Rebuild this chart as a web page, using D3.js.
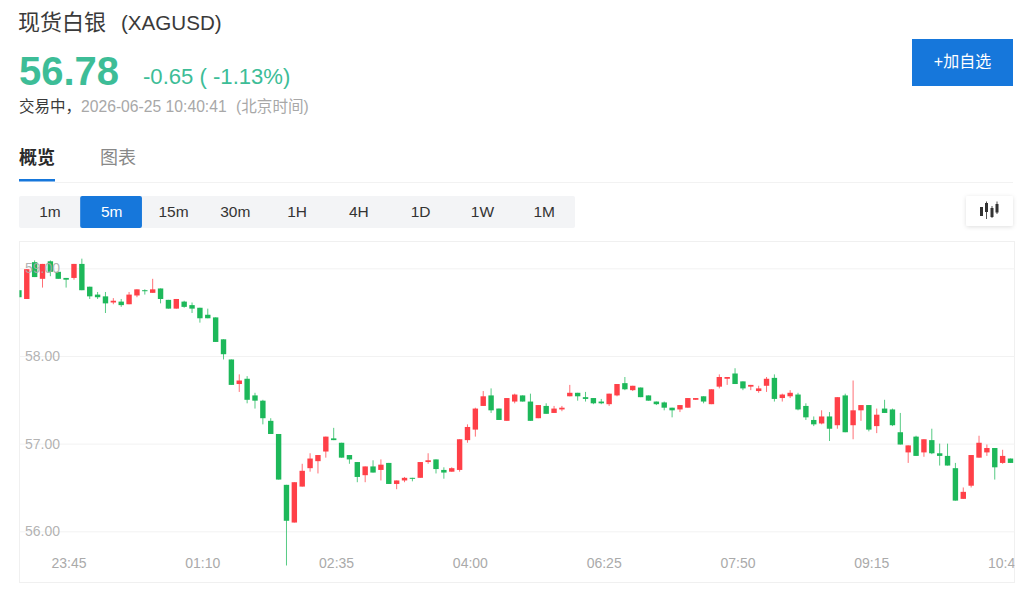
<!DOCTYPE html>
<html lang="zh">
<head>
<meta charset="utf-8">
<title>现货白银 (XAGUSD)</title>
<script src="https://cdn.jsdelivr.net/npm/d3@7/dist/d3.min.js"></script>
<style>
  html, body { margin: 0; padding: 0; background: #fff; overflow: hidden; }
  svg { display: block; }
  text { font-family: "Liberation Sans", "Noto Sans CJK SC", sans-serif; }
</style>
</head>
<body>
<svg id="page" width="1024" height="590"></svg>
<script>
// 5-minute candles, oldest first
const opens = [58.75,58.65,59.07,58.88,59.08,58.96,58.89,58.89,59.05,58.79,58.70,58.68,58.61,58.62,58.59,58.69,58.75,58.72,58.77,58.64,58.54,58.62,58.58,58.55,58.47,58.44,58.19,
  57.96,57.68,57.74,57.55,57.49,57.26,57.11,56.53,56.10,56.51,56.72,56.80,56.91,57.06,57.01,56.87,56.79,56.64,56.74,56.70,56.78,56.54,56.58,56.61,56.61,56.79,56.82,56.70,56.68,
  56.70,57.04,57.16,57.43,57.55,57.40,57.26,57.48,57.55,57.48,57.29,57.43,57.35,57.39,57.54,57.58,57.53,57.52,57.48,57.45,57.55,57.69,57.61,57.64,57.55,57.48,57.47,57.41,57.39,57.41,57.50,57.54,57.45,57.65,57.74,57.80,
  57.71,57.65,57.60,57.66,57.75,57.52,57.54,57.56,57.43,57.27,57.23,57.31,57.21,57.55,57.21,57.38,57.44,57.20,57.40,57.39,57.13,56.90,57.08,56.90,57.04,56.89,56.86,56.72,56.37,56.52,56.84,56.90,56.95,56.78,56.83];
const closes = [58.67,58.99,58.90,59.05,58.96,58.88,58.87,59.05,58.75,58.68,58.67,58.60,58.63,58.58,58.70,58.76,58.74,58.76,58.65,58.54,58.65,58.56,58.54,58.43,58.43,58.16,58.02,
  57.67,57.72,57.50,57.49,57.29,57.11,56.59,56.12,56.56,56.69,56.83,56.87,57.08,57.04,56.84,56.82,56.62,56.74,56.67,56.76,56.54,56.58,56.61,56.60,56.79,56.81,56.71,56.67,56.72,
  57.05,57.19,57.40,57.54,57.38,57.27,57.52,57.56,57.48,57.26,57.44,57.34,57.40,57.41,57.58,57.54,57.51,57.46,57.46,57.57,57.68,57.62,57.66,57.53,57.49,57.45,57.41,57.38,57.44,57.52,57.52,57.48,57.62,57.76,57.76,57.68,
  57.63,57.67,57.63,57.74,57.51,57.56,57.58,57.39,57.30,57.22,57.31,57.17,57.53,57.13,57.38,57.44,57.16,57.33,57.35,57.21,56.99,56.98,56.86,57.05,56.89,56.86,56.75,56.35,56.45,56.87,57.01,56.95,56.73,56.86,56.78];
const highs = [58.75,58.99,59.09,59.05,59.09,58.96,58.89,59.05,59.11,58.79,58.73,58.73,58.66,58.65,58.73,58.76,58.76,58.88,58.77,58.64,58.65,58.63,58.61,58.55,58.54,58.44,58.19,
  57.96,57.79,57.77,57.58,57.50,57.29,57.11,56.53,56.56,56.77,56.89,56.87,57.08,57.18,57.01,56.87,56.79,56.74,56.81,56.82,56.78,56.58,56.62,56.61,56.79,56.89,56.82,56.73,56.73,
  57.05,57.22,57.41,57.60,57.63,57.40,57.52,57.57,57.55,57.57,57.44,57.46,57.43,57.43,57.67,57.58,57.59,57.52,57.51,57.57,57.68,57.76,57.66,57.64,57.55,57.48,57.48,57.41,57.44,57.52,57.52,57.54,57.62,57.79,57.76,57.86,
  57.71,57.67,57.66,57.76,57.79,57.57,57.61,57.58,57.46,57.31,57.38,57.36,57.53,57.57,57.72,57.44,57.44,57.40,57.50,57.40,57.35,56.98,57.09,57.05,57.17,57.00,57.00,56.78,56.50,56.87,57.09,56.99,56.95,56.93,56.83];
const lows = [58.67,58.65,58.90,58.78,58.91,58.88,58.78,58.87,58.75,58.65,58.65,58.49,58.59,58.56,58.59,58.67,58.70,58.72,58.60,58.54,58.54,58.55,58.49,58.38,58.43,58.16,57.96,
  57.67,57.59,57.46,57.40,57.22,57.11,56.59,55.61,56.10,56.51,56.68,56.66,56.84,57.04,56.84,56.77,56.56,56.56,56.67,56.58,56.54,56.48,56.56,56.57,56.61,56.77,56.66,56.60,56.68,
  56.68,57.01,57.08,57.43,57.35,57.27,57.26,57.46,57.48,57.26,57.29,57.34,57.35,57.37,57.54,57.49,57.48,57.45,57.45,57.43,57.54,57.61,57.60,57.53,57.49,57.44,57.38,57.30,57.36,57.41,57.50,57.46,57.45,57.63,57.67,57.68,
  57.61,57.61,57.58,57.59,57.48,57.48,57.52,57.38,57.27,57.20,57.22,57.03,57.17,57.13,57.05,57.26,57.14,57.12,57.35,57.20,56.99,56.78,56.86,56.85,56.88,56.75,56.75,56.35,56.37,56.50,56.84,56.86,56.59,56.77,56.78];

const priceTicks = [56, 57, 58, 59];
const timeTickIndex = [6, 23, 40, 57, 74, 91, 108, 125];
const timeTickLabels = ["23:45", "01:10", "02:35", "04:00", "06:25", "07:50", "09:15", "10:40"];
const periods = ["1m", "5m", "15m", "30m", "1H", "4H", "1D", "1W", "1M"];
const activePeriod = "5m";

const UP = "#ff4048", DOWN = "#1db85a", BLUE = "#1677db";

const svg = d3.select("#page");
svg.append("rect").attr("width", 1024).attr("height", 590).attr("fill", "#fff");

// Quote header
svg.append("text").attr("x", 18).attr("y", 30).attr("font-size", 22).attr("fill", "#3a3a3a").text("现货白银");
svg.append("text").attr("x", 121).attr("y", 30).attr("font-size", 20.6).attr("fill", "#3a3a3a").text("(XAGUSD)");
svg.append("text").attr("x", 19).attr("y", 85).attr("font-size", 40).attr("font-weight", 700).attr("fill", "#3dbd97").text("56.78");
svg.append("text").attr("x", 143).attr("y", 84).attr("font-size", 22.1).attr("fill", "#3dbd97").text("-0.65 ( -1.13%)");
svg.append("text").attr("x", 19).attr("y", 112).attr("font-size", 15.5).attr("fill", "#3a3a3a").text("交易中，");
svg.append("text").attr("x", 81).attr("y", 112).attr("font-size", 15.7).attr("fill", "#a8a8a8").text("2026-06-25 10:40:41");
svg.append("text").attr("x", 236).attr("y", 112).attr("font-size", 15.6).attr("fill", "#a8a8a8").text("(北京时间)");

// Add-to-watchlist button
svg.append("rect").attr("x", 912).attr("y", 39).attr("width", 101).attr("height", 47).attr("fill", BLUE);
svg.append("text").attr("x", 962.5).attr("y", 67).attr("text-anchor", "middle").attr("font-size", 16).attr("fill", "#fff").text("+加自选");

// Tabs
svg.append("text").attr("x", 19).attr("y", 164).attr("font-size", 18).attr("font-weight", 700).attr("fill", "#2b2b2b").text("概览");
svg.append("text").attr("x", 100).attr("y", 164).attr("font-size", 18).attr("fill", "#888").text("图表");
svg.append("rect").attr("x", 19).attr("y", 179).attr("width", 36).attr("height", 2.5).attr("fill", BLUE);
svg.append("line").attr("x1", 55).attr("x2", 1013).attr("y1", 182.5).attr("y2", 182.5).attr("stroke", "#f2f2f2");

// Period selector
const periodX = d3.scaleBand().domain(periods).range([18.4, 574.4]);
svg.append("rect").attr("x", 19).attr("y", 196).attr("width", 556).attr("height", 32).attr("rx", 2).attr("fill", "#f3f4f6");
svg.append("rect").attr("x", periodX(activePeriod)).attr("y", 196).attr("width", periodX.bandwidth()).attr("height", 32).attr("rx", 2).attr("fill", BLUE);
svg.append("g").selectAll("text").data(periods).join("text")
  .attr("x", d => periodX(d) + periodX.bandwidth() / 2 + 0.7)
  .attr("y", 217)
  .attr("text-anchor", "middle")
  .attr("font-size", 15.5)
  .attr("fill", d => d === activePeriod ? "#fff" : "#333")
  .text(d => d);

// Chart-type button
const shadow = svg.append("defs").append("filter").attr("id", "soft").attr("x", "-30%").attr("y", "-30%").attr("width", "160%").attr("height", "170%");
shadow.append("feDropShadow").attr("dx", 0).attr("dy", 1).attr("stdDeviation", 2).attr("flood-color", "#000").attr("flood-opacity", 0.13);
svg.append("rect").attr("x", 966).attr("y", 196).attr("width", 47).attr("height", 30).attr("rx", 2).attr("fill", "#fff").attr("filter", "url(#soft)");
const glyph = [[981.5, 207, 216, 207, 216], [986.5, 203, 212, 201.5, 219], [992, 208, 217, 206, 218], [997, 204, 212.5, 201.5, 214]];
const glyphG = svg.append("g").attr("fill", "#333").attr("stroke", "#555");
glyph.forEach(([x, t, b, wt, wb]) => {
  glyphG.append("line").attr("x1", x).attr("x2", x).attr("y1", wt).attr("y2", wb).attr("stroke-width", 1);
  glyphG.append("rect").attr("x", x - 1.5).attr("y", t).attr("width", 3).attr("height", b - t).attr("stroke", "none");
});

// Price chart
const frame = { left: 19.5, right: 1014.5, top: 241.5, bottom: 582.5 };
const x = d3.scaleLinear().domain([0, 126]).range([18.9, 1010.5]);
const y = d3.scaleLinear().domain([56, 59]).range([531.3, 268.3]);

svg.append("rect").attr("x", frame.left).attr("y", frame.top)
  .attr("width", frame.right - frame.left).attr("height", frame.bottom - frame.top)
  .attr("fill", "#fff").attr("stroke", "#f0f0f0");

svg.append("clipPath").attr("id", "plot").append("rect")
  .attr("x", frame.left).attr("y", frame.top)
  .attr("width", frame.right - frame.left).attr("height", frame.bottom - frame.top);

const yAxis = d3.axisRight(y).tickValues(priceTicks).tickFormat(d3.format(".2f"))
  .tickSize(frame.right - frame.left).tickPadding(0);
const yG = svg.append("g").attr("transform", `translate(${frame.left},0)`).call(yAxis);
yG.select(".domain").remove();
yG.selectAll(".tick line").attr("stroke", "#f2f2f2");
yG.selectAll(".tick text").remove();

const candles = d3.range(opens.length).map(i => ({ i, o: opens[i], c: closes[i], h: highs[i], l: lows[i] }));
const plot = svg.append("g").attr("clip-path", "url(#plot)");
const color = d => d.c >= d.o ? UP : DOWN;

plot.append("g").selectAll("line").data(candles).join("line")
  .attr("x1", d => x(d.i)).attr("x2", d => x(d.i))
  .attr("y1", d => y(d.h)).attr("y2", d => y(d.l))
  .attr("stroke", color).attr("stroke-width", 1).attr("stroke-opacity", 0.75);

plot.append("g").selectAll("rect").data(candles).join("rect")
  .attr("x", d => x(d.i) - 2.7).attr("width", 5.4)
  .attr("y", d => y(Math.max(d.o, d.c)))
  .attr("height", d => Math.max(1, Math.abs(y(d.o) - y(d.c))))
  .attr("fill", color);

// Price labels sit inside the plot, above the candles
svg.append("g").selectAll("text").data(priceTicks).join("text")
  .attr("x", 25).attr("y", d => y(d) + 5)
  .attr("font-size", 14).attr("fill", "#aaa").attr("fill-opacity", 0.9)
  .text(d3.format(".2f"));

// Time axis, clipped at the chart's right edge
const xAxis = d3.axisBottom(x).tickValues(timeTickIndex)
  .tickFormat((d, i) => timeTickLabels[i]).tickSize(0).tickPadding(0);
const xG = svg.append("g").attr("clip-path", "url(#plot)").append("g").attr("transform", "translate(2.4,558)").call(xAxis);
xG.select(".domain").remove();
xG.selectAll(".tick text").attr("font-size", 14).attr("fill", "#aaa").attr("font-family", null);
</script>
</body>
</html>
